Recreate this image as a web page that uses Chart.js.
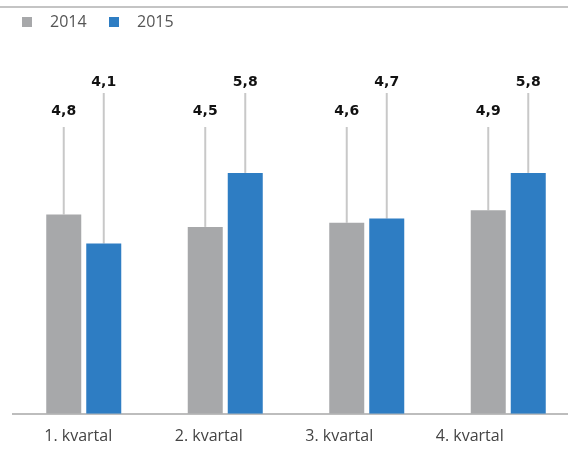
<!DOCTYPE html>
<html>
<head>
<meta charset="utf-8">
<script src="https://cdn.jsdelivr.net/npm/chart.js@4.4.1/dist/chart.umd.min.js"></script>
<style>
	body { margin: 0; background: #fff; }
	#wrap { width: 568px; height: 452px; overflow: hidden; }
</style>
</head>
<body>
<div id="wrap"><canvas id="chart" width="582" height="459"></canvas></div>
<script>
var categories = ["1. kvartal", "2. kvartal", "3. kvartal", "4. kvartal"];
var values2014 = [4.8, 4.5, 4.6, 4.9];
var values2015 = [4.1, 5.8, 4.7, 5.8];
var seriesNames = ["2014", "2015"];
var colors = ["#a7a8aa", "#2e7dc3"];

// leader line ends and label baselines, one per series
var lineTops = [127, 93];
var labelBase = [115, 86];

var annotate = {
	id: 'annotate',
	beforeDatasetsDraw: function(chart) {
		var ctx = chart.ctx;
		ctx.save();
		ctx.strokeStyle = '#c8c8c8';
		ctx.lineWidth = 2;
		chart.data.datasets.forEach(function(ds, d) {
			chart.getDatasetMeta(d).data.forEach(function(bar) {
				ctx.beginPath();
				ctx.moveTo(bar.x, bar.y);
				ctx.lineTo(bar.x, lineTops[d]);
				ctx.stroke();
			});
		});
		ctx.restore();
	},
	afterDraw: function(chart) {
		var ctx = chart.ctx;
		ctx.save();
		// top rule
		ctx.fillStyle = '#c4c4c4';
		ctx.fillRect(0, 6, chart.width, 2);

		// legend
		var boxX = [22, 109];
		ctx.font = '16px "Open Sans"';
		ctx.textBaseline = 'middle';
		ctx.textAlign = 'left';
		chart.data.datasets.forEach(function(ds, d) {
			ctx.fillStyle = ds.backgroundColor;
			ctx.fillRect(boxX[d], 17, 10, 10);
			ctx.fillStyle = '#555';
			ctx.fillText(ds.label, boxX[d] + 28, 22);
		});

		// value labels
		ctx.font = 'bold 14px "DejaVu Sans"';
		ctx.textAlign = 'center';
		ctx.textBaseline = 'alphabetic';
		ctx.fillStyle = '#111';
		chart.data.datasets.forEach(function(ds, d) {
			chart.getDatasetMeta(d).data.forEach(function(bar, i) {
				ctx.fillText(String(ds.data[i]).replace('.', ','), bar.x, labelBase[d]);
			});
		});
		ctx.restore();
	}
};

var ctx = document.getElementById("chart");
var chart = new Chart(ctx, {
	type: 'bar',
	data: {
		labels: categories,
		datasets: [
			{
				label: seriesNames[0],
				data: values2014,
				backgroundColor: colors[0],
				categoryPercentage: 0.5654,
				barPercentage: 0.875
			},
			{
				label: seriesNames[1],
				data: values2015,
				backgroundColor: colors[1],
				categoryPercentage: 0.5654,
				barPercentage: 0.875
			}
		]
	},
	options: {
		responsive: false,
		animation: false,
		layout: { padding: { top: 40, left: 13, right: 3, bottom: 0 } },
		plugins: {
			legend: { display: false },
			tooltip: { enabled: false }
		},
		scales: {
			x: {
				grid: { display: false, drawTicks: false },
				border: { display: true, color: '#bdbdbd', width: 2 },
				ticks: { display: false }
			},
			// label axis: same categories, slightly tighter spacing than the bars
			xl: {
				type: 'linear',
				position: 'bottom',
				offset: false,
				min: -0.5,
				max: 3.837,
				grid: { display: false, drawTicks: false },
				border: { display: false },
				afterBuildTicks: function(scale) {
					scale.ticks = categories.map(function(c, i) { return { value: i }; });
				},
				ticks: {
					padding: 13,
					maxRotation: 0,
					color: '#444',
					font: { family: 'Open Sans', size: 16 },
					callback: function(value) { return categories[value]; }
				}
			},
			y: {
				display: false,
				min: 0,
				max: 9
			}
		}
	},
	plugins: [annotate]
});
</script>
</body>
</html>
